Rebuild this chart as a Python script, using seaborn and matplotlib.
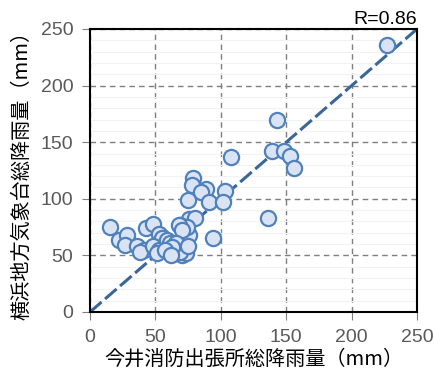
import matplotlib
matplotlib.use("Agg")
import matplotlib.pyplot as plt
import seaborn as sns
import pandas as pd
from matplotlib.ticker import MultipleLocator

imai = [227, 143, 139, 148, 153, 156, 108, 79, 78, 89, 85, 103, 75, 91, 102,
        136, 94, 76, 80, 69, 72, 76, 74, 55, 15, 22, 28, 27, 36, 41, 38, 43,
        48, 53, 55, 48, 53, 51, 59, 61, 67, 70, 65, 68, 70, 73, 69, 66, 63, 57,
        75, 62]
yokohama = [236, 170, 142, 142, 138, 127, 137, 118, 112, 109, 106, 107, 99, 97,
            97, 83, 65, 82, 83, 77, 72, 68, 75, 66, 75, 64, 68, 59, 58, 55, 53,
            74, 78, 69, 65, 58, 55, 52, 64, 61, 56, 50, 55, 77, 72, 52, 53, 61,
            57, 55, 58, 50]
r_label = "R=0.86"
ticks = [0, 50, 100, 150, 200, 250]

df = pd.DataFrame({"imai": imai, "yokohama": yokohama})

sns.set_theme(style="white")
plt.rcParams['font.family'] = ['Liberation Sans', 'Noto Sans CJK JP', 'DejaVu Sans']

fig = plt.figure(figsize=(4.34, 3.74), dpi=100)
ax = fig.add_axes([0.2074, 0.1658, 0.7536, 0.7567])

ax.set_xlim(0, 250)
ax.set_ylim(0, 250)
ax.yaxis.set_minor_locator(MultipleLocator(10))
ax.grid(which="minor", axis="y", color="#F2F2F2", linewidth=0.8)
ax.grid(which="major", color="#7F7F7F", linestyle=(0, (4, 3)), linewidth=1.0)
ax.set_axisbelow(True)

ax.plot([0, 250], [0, 250], color="#3A6699", linestyle=(0, (5, 1.5)),
        linewidth=2.2, zorder=2)

sns.scatterplot(data=df, x="imai", y="yokohama", ax=ax, s=120,
                color="#DAE3F3", edgecolor="#4F81BD", linewidth=1.6, zorder=3)

ax.set_xticks(ticks)
ax.set_yticks(ticks)
ax.tick_params(axis="both", which="major", labelsize=14, labelcolor="#595959",
               direction="out", length=6, width=0.8, color="#808080",
               bottom=True, left=True)
ax.tick_params(axis="x", which="major", pad=6)
ax.tick_params(axis="y", which="major", pad=6)
ax.tick_params(which="minor", length=0)

for sp in ax.spines.values():
    sp.set_color("black")
    sp.set_linewidth(1.5)

ax.set_xlabel("今井消防出張所総降雨量（mm）", fontsize=14.5, color="black",
              family=['Noto Sans CJK JP'], labelpad=2)
ax.set_ylabel("横浜地方気象台総降雨量（mm）", fontsize=14.5, color="black",
              family=['Noto Sans CJK JP'], labelpad=6)

ax.text(1.0, 1.005, r_label, transform=ax.transAxes, ha="right", va="bottom",
        fontsize=14, color="black")

fig.savefig("out.png", dpi=100)
